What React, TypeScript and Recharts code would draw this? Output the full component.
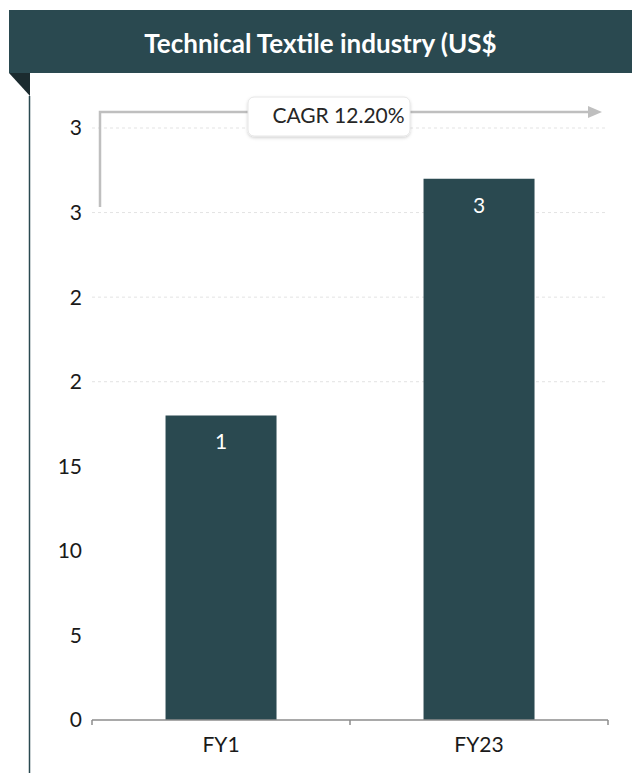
import { BarChart, Bar, XAxis, YAxis, CartesianGrid, LabelList } from 'recharts';

const categories = ['FY1', 'FY23'];
const marketSize = [18, 32];
const barLabels = ['1', '3'];
const yTicks = [0, 5, 10, 15, 20, 25, 30, 35];
const yTickLabels = ['0', '5', '10', '15', '2', '2', '3', '3'];
const gridValues = [20, 25, 30, 35];
const title = 'Technical Textile industry (US$';
const cagrLabel = 'CAGR 12.20%';

const data = categories.map((name, i) => ({ name, value: marketSize[i], label: barLabels[i] }));

const TEAL = '#2a4950';
const AXIS = '#8c8c8c';
const FONT = 'Lato, "Open Sans", sans-serif';
const TICK_SIZE = 6;
const TICK_MARGIN = 11;

// category label plus tick marks on the band edges (Excel style)
function CategoryTick(props: any) {
  const { x, y, payload, index, visibleTicksCount } = props;
  const half = payload?.offset ?? 129;
  const axisY = y - TICK_SIZE - TICK_MARGIN;
  const last = index === visibleTicksCount - 1;
  return (
    <g>
      <line x1={x - half} y1={axisY} x2={x - half} y2={axisY + 5} stroke={AXIS} strokeWidth={1.5} />
      {last && <line x1={x + half} y1={axisY} x2={x + half} y2={axisY + 5} stroke={AXIS} strokeWidth={1.5} />}
      <text x={x} y={y} dy="0.71em" textAnchor="middle" fill="#1a1a1a" fontSize={21} fontFamily={FONT}>
        {payload.value}
      </text>
    </g>
  );
}

export default function App() {
  return (
    <div style={{ position: 'relative', width: 632, height: 773, fontFamily: FONT }}>
      <style>{`body{margin:0}`}</style>
      <BarChart
        width={632}
        height={773}
        data={data}
        margin={{ top: 128, right: 24, left: 32, bottom: 13 }}
        barCategoryGap="28.5%"
      >
        <CartesianGrid vertical={false} horizontalValues={gridValues} stroke="#e3e3e3" strokeDasharray="3 3" />
        <XAxis
          dataKey="name"
          height={40}
          axisLine={{ stroke: AXIS, strokeWidth: 1.5 }}
          tickLine={false}
          tickSize={TICK_SIZE}
          tickMargin={TICK_MARGIN}
          tick={<CategoryTick />}
        />
        <YAxis
          domain={[0, 35]}
          ticks={yTicks}
          width={60}
          axisLine={false}
          tickLine={false}
          tickMargin={4}
          interval={0}
          tickFormatter={(v: number) => yTickLabels[yTicks.indexOf(v)]}
          tick={{ fill: '#1a1a1a', fontSize: 21, fontFamily: FONT }}
        />
        <Bar dataKey="value" fill={TEAL} isAnimationActive={false}>
          <LabelList dataKey="label" position="insideTop" offset={19} fill="#ffffff" fontSize={21} fontFamily={FONT} />
        </Bar>
      </BarChart>
      <svg
        width={632}
        height={773}
        style={{ position: 'absolute', left: 0, top: 0, pointerEvents: 'none' }}
      >
        <defs>
          <filter id="shadow" x="-10%" y="-20%" width="120%" height="160%">
            <feDropShadow dx="0" dy="1.5" stdDeviation="1.5" floodColor="#000" floodOpacity="0.18" />
          </filter>
        </defs>
        <rect x={9} y={10} width={623} height={63} fill={TEAL} />
        <text x={320.5} y={53} textAnchor="middle" fill="#ffffff" fontSize={26} fontWeight="bold" fontFamily={FONT}>
          {title}
        </text>
        <polygon points="9,73 30,73 30,96" fill="#1b2b2f" />
        <line x1={29.5} y1={96} x2={29.5} y2={773} stroke={TEAL} strokeWidth={1.5} />
        <polyline points="100,207 100,112 590,112" fill="none" stroke="#bfbfbf" strokeWidth={2.5} />
        <polygon points="588,106 602,112 588,118" fill="#bfbfbf" />
        <rect x={248} y={97} width={162} height={39} rx={6} fill="#ffffff" stroke="#e6e6e6" filter="url(#shadow)" />
        <text x={338.5} y={123} textAnchor="middle" fill="#262626" fontSize={21} fontFamily={FONT}>
          {cagrLabel}
        </text>
      </svg>
    </div>
  );
}
